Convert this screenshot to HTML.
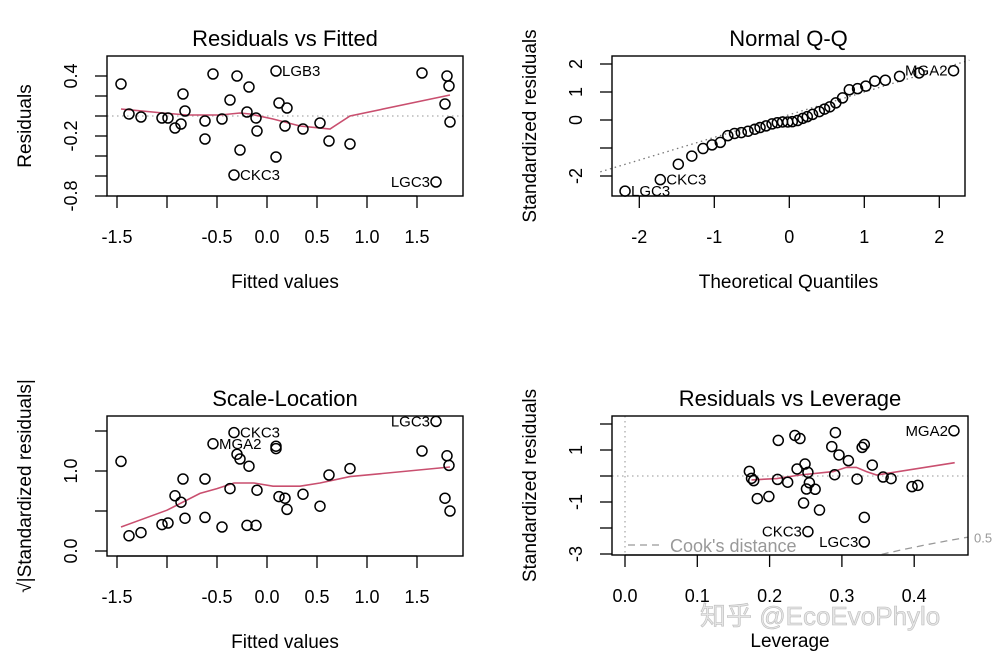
<!DOCTYPE html>
<html><head><meta charset="utf-8">
<style>
html,body{margin:0;padding:0;background:#fff;}
svg{display:block;font-family:"Liberation Sans",Arial,sans-serif;}
</style></head>
<body>
<svg id="chart" width="1003" height="660" viewBox="0 0 1003 660" xmlns="http://www.w3.org/2000/svg"></svg>
<script>
// ---------- Panel 1 & 3 shared fitted values ----------
const fitted = [-1.46,-1.38,-1.26,-1.05,-0.99,-0.92,-0.86,-0.84,-0.82,-0.62,-0.62,-0.54,-0.45,-0.37,-0.33,-0.30,-0.27,-0.20,-0.18,-0.11,-0.10,0.09,0.09,0.12,0.20,0.18,0.36,0.53,0.62,0.83,1.55,1.69,1.80,1.82,1.78,1.83];
const residuals = [0.32,0.02,-0.01,-0.02,-0.02,-0.12,-0.08,0.22,0.05,-0.05,-0.23,0.42,-0.03,0.16,-0.59,0.40,-0.34,0.04,0.29,-0.02,-0.15,0.45,-0.41,0.13,0.08,-0.10,-0.13,-0.07,-0.25,-0.28,0.43,-0.66,0.40,0.30,0.12,-0.06];
const residLabels = {21:"LGB3",14:"CKC3",31:"LGC3"};
const smooth1X = [-1.46,-1.04,-0.80,-0.47,-0.27,-0.17,0.06,0.33,0.63,0.83,1.83];
const smooth1Y = [0.07,0.03,0.01,0.01,0.03,0.02,-0.03,-0.10,-0.13,0.00,0.21];

const sqrtStd = [1.12,0.19,0.23,0.33,0.35,0.69,0.61,0.90,0.41,0.90,0.42,1.34,0.30,0.78,1.48,1.21,1.15,0.32,1.06,0.32,0.76,1.31,1.28,0.68,0.52,0.66,0.71,0.56,0.95,1.03,1.25,1.62,1.19,1.07,0.66,0.50];
const scaleLabels = {11:"MGA2",14:"CKC3",31:"LGC3"};
const smooth3X = [-1.46,-1.00,-0.67,-0.50,-0.33,-0.13,0.06,0.33,0.53,0.83,1.83];
const smooth3Y = [0.30,0.51,0.72,0.78,0.85,0.85,0.81,0.81,0.85,0.93,1.05];

// ---------- Panel 2: Q-Q ----------
const theoQ = [-2.19,-1.72,-1.48,-1.30,-1.15,-1.03,-0.92,-0.82,-0.73,-0.64,-0.55,-0.46,-0.39,-0.31,-0.23,-0.16,-0.09,-0.02,0.04,0.11,0.18,0.24,0.31,0.40,0.47,0.54,0.62,0.71,0.80,0.91,1.02,1.14,1.28,1.47,1.73,2.19];
const sampleQ = [-2.54,-2.13,-1.58,-1.29,-1.02,-0.89,-0.80,-0.56,-0.48,-0.45,-0.40,-0.33,-0.27,-0.21,-0.14,-0.10,-0.07,-0.07,-0.06,-0.02,0.06,0.12,0.20,0.30,0.39,0.47,0.61,0.79,1.08,1.12,1.21,1.39,1.42,1.56,1.68,1.76];
const qqLabels = {0:"LGC3",1:"CKC3",35:"MGA2"};
const qqLine = [0.19,0.81]; // intercept, slope

// ---------- Panel 4: leverage ----------
const leverage = [0.172,0.175,0.178,0.183,0.199,0.211,0.212,0.225,0.235,0.242,0.238,0.249,0.253,0.255,0.251,0.247,0.263,0.253,0.269,0.286,0.291,0.290,0.296,0.309,0.321,0.328,0.331,0.331,0.331,0.342,0.357,0.368,0.397,0.405,0.455];
const stdResid = [0.18,-0.09,-0.18,-0.87,-0.79,-0.13,1.37,-0.24,1.56,1.44,0.27,0.46,0.14,-0.26,-0.50,-1.04,-0.51,-2.14,-1.31,1.13,1.67,0.05,0.81,0.59,-0.12,1.10,1.21,-1.59,-2.54,0.42,-0.04,-0.10,-0.41,-0.36,1.74];
const levLabels = {17:"CKC3",28:"LGC3",34:"MGA2"};
const smooth4X = [0.175,0.210,0.242,0.288,0.306,0.320,0.334,0.348,0.362,0.456];
const smooth4Y = [-0.15,-0.10,0.04,0.17,0.33,0.33,0.17,0.04,0.10,0.51];
const cookP = 10;

// ---------- ticks ----------
const p1XTicks=[-1.5,-1,-0.5,0,0.5,1,1.5], p1XLab=["-1.5","","-0.5","0.0","0.5","1.0","1.5"];
const p1YTicks=[0.4,0.2,0,-0.2,-0.4,-0.6,-0.8], p1YLab=["0.4","","","-0.2","","","-0.8"];
const p2XTicks=[-2,-1,0,1,2], p2XLab=["-2","-1","0","1","2"];
const p2YTicks=[2,1,0,-1,-2], p2YLab=["2","1","0","","-2"];
const p3YTicks=[0,0.5,1,1.5], p3YLab=["0.0","","1.0",""];
const p4XTicks=[0,0.1,0.2,0.3,0.4], p4XLab=["0.0","0.1","0.2","0.3","0.4"];
const p4YTicks=[2,1,0,-1,-2,-3], p4YLab=["","1","","-1","","-3"];

const NS="http://www.w3.org/2000/svg";
const svg=document.getElementById('chart');
function mk(tag,attrs,parent,text){const e=document.createElementNS(NS,tag);for(const k in attrs)e.setAttribute(k,attrs[k]);if(text!==undefined)e.textContent=text;(parent||svg).appendChild(e);return e;}
function lin(d0,d1,r0,r1){return v=>r0+(v-d0)*(r1-r0)/(d1-d0);}

function panel(o){
  const g=mk('g',{});
  
  
  const {L,R,T,B}=o.box;
  const t=mk('text',{x:(L+R)/2,y:T-10,'text-anchor':'middle','font-size':'22'},g,o.title);
  
  
  o.xt.forEach((v,i)=>{const x=o.sx(v);
    const tk=mk('line',{x1:x,x2:x,y1:B,y2:B+12,stroke:'#000','stroke-width':1.3},g);
    
    
    if(o.xl[i]){const tl=mk('text',{x:x,y:B+47,'text-anchor':'middle','font-size':'18'},g,o.xl[i]);
      
      }
  });
  const xa=mk('line',{x1:o.sx(o.xt[0]),x2:o.sx(o.xt[o.xt.length-1]),y1:B,y2:B,stroke:'#000','stroke-width':1.3},g);
  
  
  o.yt.forEach((v,i)=>{const y=o.sy(v);
    const tk=mk('line',{x1:L-12,x2:L,y1:y,y2:y,stroke:'#000','stroke-width':1.3},g);
    
    
    if(o.yl[i]){const tl=mk('text',{x:0,y:0,'text-anchor':'middle','font-size':'18',transform:`translate(${L-30},${y}) rotate(-90)`},g,o.yl[i]);
      
      }
  });
  const xt=mk('text',{x:(L+R)/2,y:B+92,'text-anchor':'middle','font-size':'19'},g,o.xTitle);
  
  
  const yt=mk('text',{x:0,y:0,'text-anchor':'middle','font-size':'19',transform:`translate(${L-76},${(T+B)/2}) rotate(-90)`},g,o.yTitle);
  
  
  return g;
}
function box(g,b){const r=mk('rect',{x:b.L,y:b.T,width:b.R-b.L,height:b.B-b.T,fill:'none',stroke:'#000','stroke-width':1.4},g);
  
  }
function pts(g,xs,ys,sx,sy,labels,pos){
  xs.forEach((v,i)=>{const c=mk('circle',{cx:sx(v),cy:sy(ys[i]),r:5,fill:'none',stroke:'#000','stroke-width':1.5},g);
    
    
    if(labels[i]){const side=pos[i]||'r';
      const tx=mk('text',{x:sx(v)+(side==='r'?6:-6),y:sy(ys[i])+5,'text-anchor':side==='r'?'start':'end','font-size':'15'},g,labels[i]);
      
      }
  });
}
function curve(g,xs,ys,sx,sy,attrs,name){
  const d=xs.map((v,i)=>(i?'L':'M')+sx(v).toFixed(1)+','+sy(ys[i]).toFixed(1)).join(' ');
  const p=mk('path',Object.assign({d:d,fill:'none'},attrs),g);
  
  
}
function hline(g,b,y,name){const l=mk('line',{x1:b.L,x2:b.R,y1:y,y2:y,stroke:'#aaa','stroke-width':1.3,'stroke-dasharray':'1.5,3.5'},g);
  
  }
const red={stroke:'#c94f6f','stroke-width':1.6};

// Panel 1
{const b={L:107,R:463,T:56,B:196};
 const sx=lin(0,1,267,367), sy=lin(0,0.2,116,96);
 const g=panel({name:'residuals-vs-fitted-panel',box:b,title:'Residuals vs Fitted',sx,sy,xt:p1XTicks,xl:p1XLab,yt:p1YTicks,yl:p1YLab,xTitle:'Fitted values',yTitle:'Residuals'});
 hline(g,b,sy(0),'zero-reference-line');
 curve(g,smooth1X,smooth1Y,sx,sy,red,'smooth-line');
 pts(g,fitted,residuals,sx,sy,residLabels,{31:'l'});
 box(g,b);}
// Panel 3
{const b={L:107,R:463,T:416,B:556};
 const sx=lin(0,1,267,367), sy=lin(0,1,551,471);
 const g=panel({name:'scale-location-panel',box:b,title:'Scale-Location',sx,sy,xt:p1XTicks,xl:p1XLab,yt:p3YTicks,yl:p3YLab,xTitle:'Fitted values',yTitle:'√|Standardized residuals|'});
 curve(g,smooth3X,smooth3Y,sx,sy,red,'smooth-line');
 pts(g,fitted,sqrtStd,sx,sy,scaleLabels,{31:'l'});
 box(g,b);}
// Panel 2
{const b={L:612,R:965,T:56,B:196};
 const sx=lin(0,1,789.3,864.3), sy=lin(0,1,120,92);
 const g=panel({name:'normal-qq-panel',box:b,title:'Normal Q-Q',sx,sy,xt:p2XTicks,xl:p2XLab,yt:p2YTicks,yl:p2YLab,xTitle:'Theoretical Quantiles',yTitle:'Standardized residuals'});
 const x0=-2.52,x1=2.4;
 const ql=mk('line',{x1:sx(x0),y1:sy(qqLine[0]+qqLine[1]*x0),x2:sx(x1),y2:sy(qqLine[0]+qqLine[1]*x1),stroke:'#777','stroke-width':1.3,'stroke-dasharray':'1.5,3.5'},g);
 
 
 pts(g,theoQ,sampleQ,sx,sy,qqLabels,{35:'l'});
 box(g,b);}
// Panel 4
{const b={L:612,R:968,T:416,B:555};
 const sx=lin(0,0.1,625,697.3), sy=lin(0,1,476,450);
 const g=panel({name:'residuals-vs-leverage-panel',box:b,title:'Residuals vs Leverage',sx,sy,xt:p4XTicks,xl:p4XLab,yt:p4YTicks,yl:p4YLab,xTitle:'Leverage',yTitle:'Standardized residuals'});
 hline(g,b,sy(0),'zero-reference-line');
 const vl=mk('line',{x1:sx(0),x2:sx(0),y1:b.T,y2:b.B,stroke:'#aaa','stroke-width':1.3,'stroke-dasharray':'1.5,3.5'},g);
 
 
 const hs=[],ys=[];for(let h=0.3;h<=0.48;h+=0.005){const y=-Math.sqrt(0.5*cookP*(1-h)/h);if(sy(y)<=b.B){hs.push(h);ys.push(y);}}
 curve(g,hs,ys,sx,sy,{stroke:'#999','stroke-width':1.3,'stroke-dasharray':'7,5'},'cooks-distance-curve');
 const cl=mk('text',{x:b.R+6,y:sy(-Math.sqrt(0.5*cookP*(1-0.47)/0.47))+5,'font-size':'13',fill:'#999'},g,'0.5');
 
 
 const ll=mk('line',{x1:628,x2:660,y1:545,y2:545,stroke:'#999','stroke-width':1.3,'stroke-dasharray':'7,5'},g);
 
 
 const lt=mk('text',{x:670,y:552,'font-size':'18',fill:'#999'},g,"Cook's distance");
 
 
 curve(g,smooth4X,smooth4Y,sx,sy,red,'smooth-line');
 pts(g,leverage,stdResid,sx,sy,levLabels,{17:'l',28:'l',34:'l'});
 box(g,b);}
// watermark
const wm=mk('text',{x:700,y:625,'font-size':'26',fill:'#e6e6e6',stroke:'#bbb','stroke-width':0.6,'font-family':'"Liberation Sans","Noto Sans CJK SC",sans-serif'},svg,'知乎 @EcoEvoPhylo');


</script>
</body></html>
